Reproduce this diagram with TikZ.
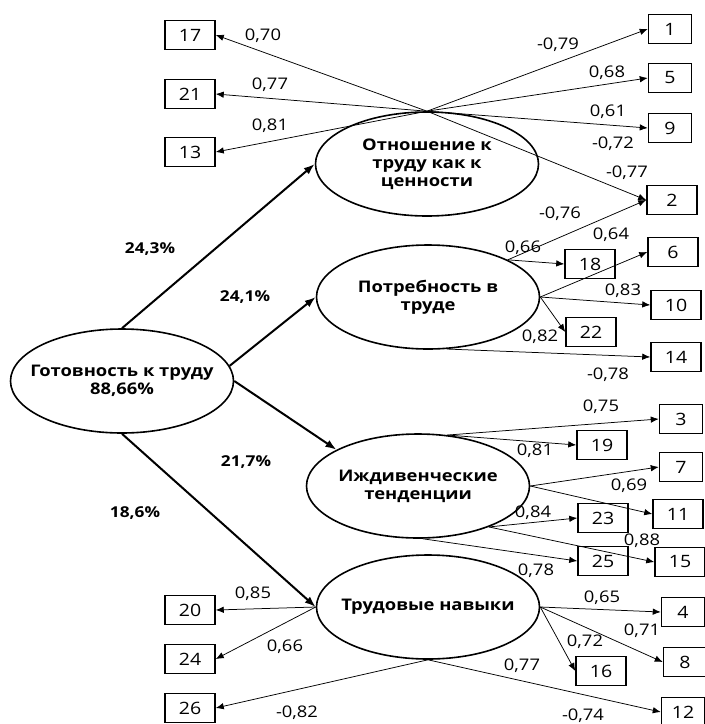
\documentclass[tikz,border=0pt]{standalone}
\usepackage{fontspec}
\setmainfont[FakeStretch=1.15]{Open Sans}
\usetikzlibrary{shapes.geometric,arrows.meta}
\tikzset{
	factor/.style={ellipse, draw, line width=1.6pt, minimum width=223pt, minimum height=104pt, inner sep=0pt},
	ftext/.style={align=center, inner sep=0pt, font=\fontsize{16}{18}\selectfont\bfseries},
	ind/.style={draw, line width=1.5pt, minimum width=50pt, minimum height=29pt, inner sep=0pt, font=\fontsize{17}{18}\selectfont},
	narrow/.style={minimum width=43pt},
	load/.style={line width=0.75pt, -{Latex[length=8pt,width=6.5pt]}},
	bigarrow/.style={line width=2pt, -{Latex[length=11pt,width=8pt]}},
	coef/.style={inner sep=0pt, font=\fontsize{16}{18}\selectfont},
	pct/.style={inner sep=0pt, font=\fontsize{15}{18}\selectfont\bfseries}
}

\begin{document}
\begin{tikzpicture}[x=1pt,y=-1pt]
	\useasboundingbox (0,0) rectangle (705,724);
	% factors
	\node [factor] (gt) at (122,381) {};
	\node [ftext] (gtt) at (gt) {Готовность к труду\\88,66\%};
	\node [factor] (f1) at (427,164) {};
	\node [ftext] (f1t) at (f1) {Отношение к\\труду как к\\ценности};
	\node [factor] (f2) at (428,297) {};
	\node [ftext] (f2t) at (f2) {Потребность в\\труде};
	\node [factor] (f3) at (418,486) {};
	\node [ftext] (f3t) at (f3) {Иждивенческие\\тенденции};
	\node [factor] (f4) at (428,607) {};
	\node [ftext] (f4t) at (f4) {Трудовые навыки};
	% items
	\foreach \n/\x/\y in {17/190/35, 21/190/94, 13/190/152, 2/672/200, 18/590/264, 6/673/252, 10/676/305, 22/591/332, 14/676/357, 19/602/445, 11/678/514, 23/603/518, 25/603/561, 15/680/562, 16/601/671, 20/190/610, 24/190/659, 26/190/708}
		\node [ind] (b\n) at (\x,\y) {\n};
	\foreach \n/\x/\y in {1/670/29, 5/670/78, 9/670/128, 3/681/419, 7/681/467, 4/683/612, 8/685/662, 12/683/712}
		\node [ind, narrow] (b\n) at (\x,\y) {\n};
	% paths from the general factor
	\draw [bigarrow] (gt.north) -- (f1.west);
	\draw [bigarrow] (gt.8) -- (f2.west);
	\draw [bigarrow] (gt.east) -- (f3.156);
	\draw [bigarrow] (gt.south) -- (f4.west);
	% loadings
	\foreach \t in {17,21,13} \draw [load] (f1.north) -- (b\t.east);
	\foreach \t in {1,5,9,2} \draw [load] (f1.north) -- (b\t.west);
	\foreach \t in {2,18} \draw [load] (f2.25) -- (b\t.west);
	\foreach \t in {6,10,22} \draw [load] (f2.east) -- (b\t.west);
	\draw [load] (f2.-70) -- (b14.west);
	\foreach \t in {3,19} \draw [load] (f3.60) -- (b\t.west);
	\foreach \t in {7,11} \draw [load] (f3.east) -- (b\t.west);
	\foreach \t in {23,15} \draw [load] (f3.-30) -- (b\t.west);
	\draw [load] (f3.-85) -- (b25.west);
	\foreach \t in {20,24} \draw [load] (f4.west) -- (b\t.east);
	\foreach \t in {4,8,16} \draw [load] (f4.east) -- (b\t.west);
	\draw [load] (f4.south) -- (b26.east);
	\draw [load] (f4.south) -- (b12.west);
	% coefficients
	\foreach \v/\x/\y [count=\i] in {{0,70}/263/36, {0,77}/270/85, {0,81}/270/126, {-0,79}/558/45, {0,68}/607/73, {0,61}/608/112, {-0,72}/613/144, {-0,77}/627/173, {-0,76}/560/214,
		{0,64}/611/235, {0,66}/523/248, {0,83}/623/291, {0,82}/540/337, {-0,78}/608/375,
		{0,75}/601/407, {0,81}/535/451, {0,69}/629/486, {0,84}/533/513, {0,88}/642/541, {0,78}/536/571,
		{0,85}/253/594, {0,66}/285/647, {-0,82}/297/713, {0,65}/602/598, {0,71}/642/631, {0,72}/585/642, {0,77}/522/666, {-0,74}/583/716}
		\node [coef] (c\i) at (\x,\y) {\v};
	\foreach \v/\x/\y [count=\i] in {{24,3}/150/249, {24,1}/245/297, {21,7}/246/462, {18,6}/135/513}
		\node [pct] (p\i) at (\x,\y) {\v\%};
\end{tikzpicture}
\end{document}
